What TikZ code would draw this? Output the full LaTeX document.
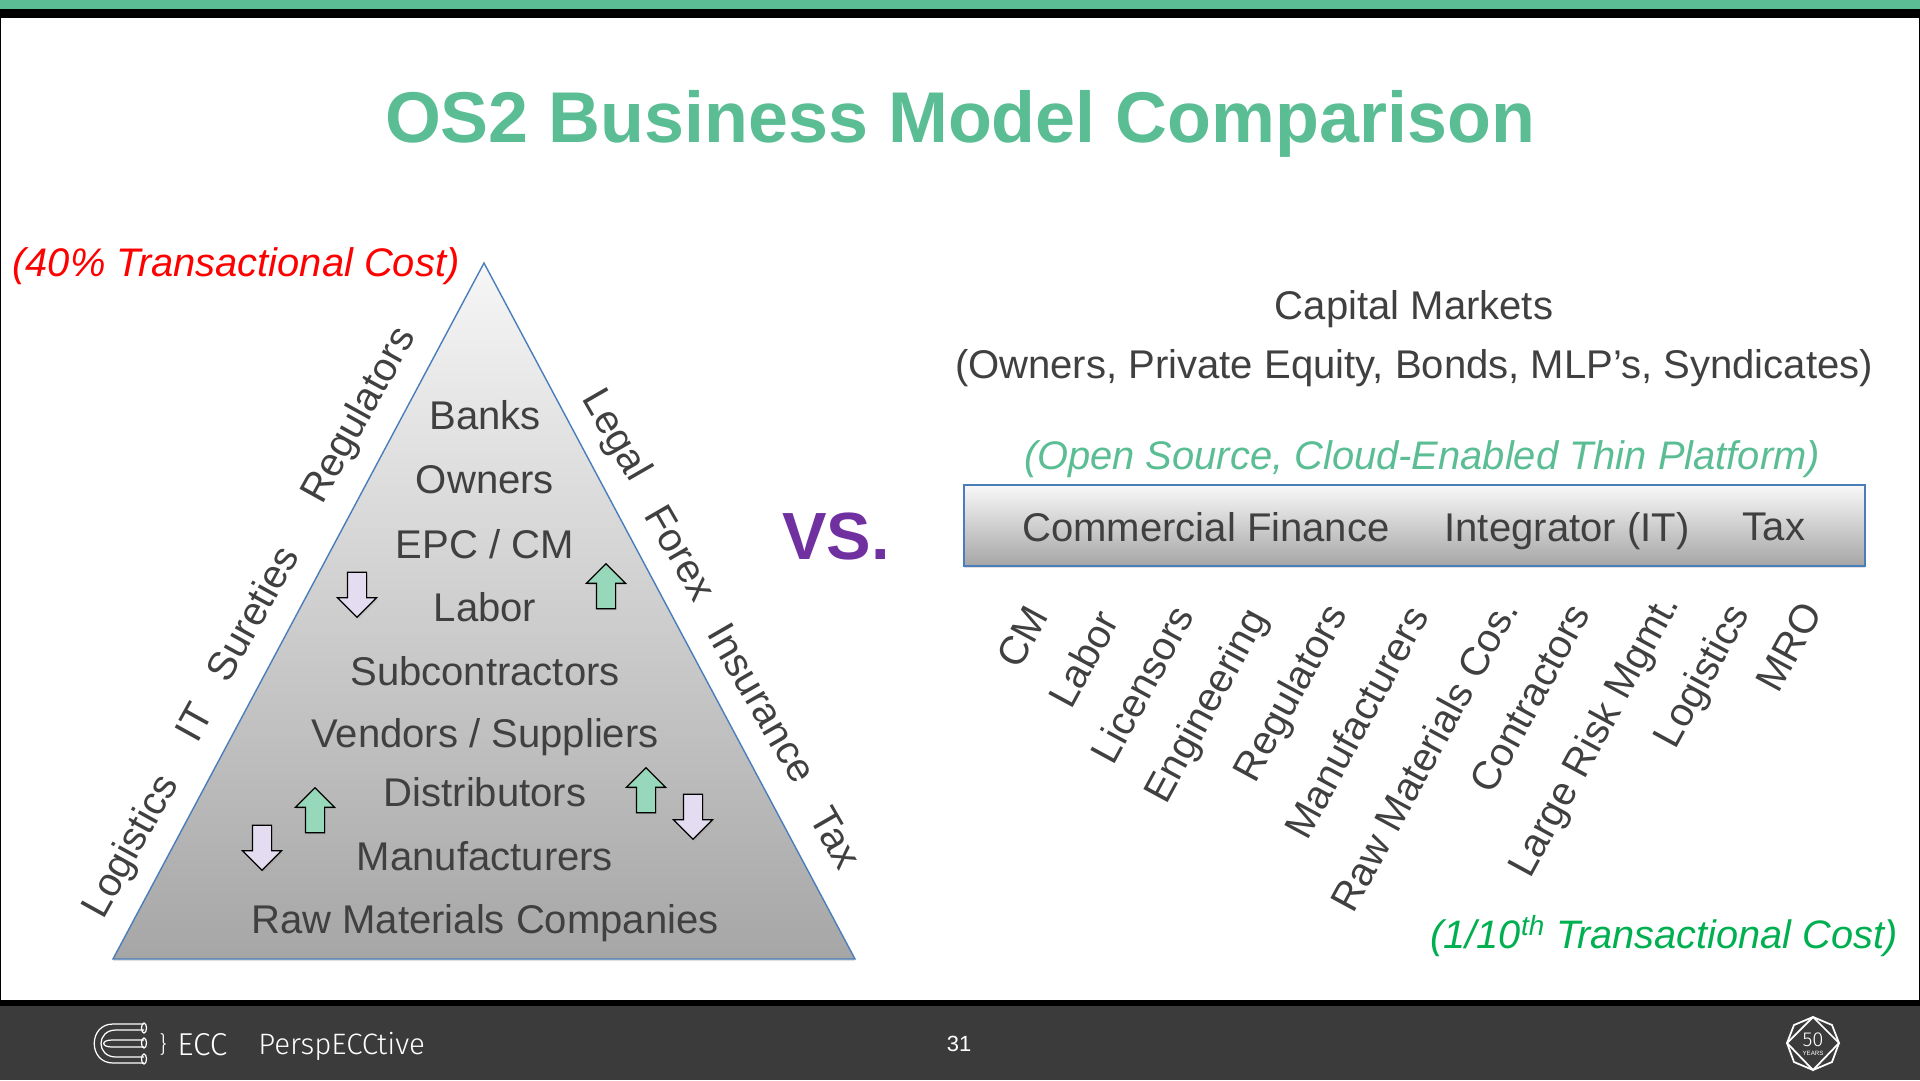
\documentclass[tikz,border=0pt]{standalone}
\usepackage{fontspec}
\setmainfont{Liberation Sans}
\newfontfamily\footfont{Fira Sans Light}
\usetikzlibrary{shapes.arrows,shapes.geometric,shadows}
\definecolor{titlegreen}{HTML}{5ABD94}
\definecolor{bodygray}{HTML}{404040}
\definecolor{footgray}{HTML}{3B3B3B}
\definecolor{sidegray}{HTML}{A6A6A6}
\definecolor{edgeblue}{HTML}{4A7EBB}
\definecolor{upgreen}{HTML}{98D8BA}
\definecolor{downlilac}{HTML}{E4DCF0}
\definecolor{vspurple}{HTML}{7030A0}
\definecolor{costgreen}{HTML}{00B050}
\tikzset{
    bodytext/.style={text=bodygray,font=\fontsize{22.8}{26}\selectfont,inner sep=0pt,anchor=center},
    slanted/.style={bodytext,rotate=#1},
    uparrow/.style={single arrow,draw=black,fill=upgreen,line width=0.7pt,shape border rotate=90,
        minimum height=0.9cm,minimum width=0.76cm,single arrow head extend=0.2cm,inner sep=0.18cm,
        drop shadow={shadow xshift=0.02cm,shadow yshift=-0.03cm,opacity=0.3}},
    downarrow/.style={uparrow,fill=downlilac,shape border rotate=270},
    footlabel/.style={text=white,font=\footfont\fontsize{16.5}{18}\selectfont,inner sep=0pt},
    logoline/.style={draw=white,line width=0.7pt},
}
\begin{document}
\begin{tikzpicture}[x=0.02cm,y=-0.02cm]
    \useasboundingbox (0,0) rectangle (1920,1080);
    \fill[white] (0,0) rectangle (1920,1080);
    % bars
    \fill[titlegreen] (0,0) rectangle (1920,9);
    \fill[black] (0,9) rectangle (1920,18);
    \fill[black] (0,18) rectangle (1.5,1000);
    \fill[black] (1918.5,18) rectangle (1920,1000);
    \fill[black] (0,1000) rectangle (1920,1006);
    \fill[footgray] (0,1006) rectangle (1920,1080);

    \node[text=titlegreen,font=\bfseries\fontsize{40.9}{48}\selectfont,inner sep=0pt] (title) at (960,124) {OS2 Business Model Comparison};

    % pyramid
    \shade[top color=white!90!sidegray,bottom color=sidegray,draw=edgeblue,line width=0.8pt,
        drop shadow={shadow xshift=0cm,shadow yshift=-0.04cm,opacity=0.25}]
        (484,263) -- (855,959) -- (113,959) -- cycle;
    \foreach[count=\i] \ly/\ltext in {415/Banks,480/Owners,544/{EPC / CM},607/Labor,671/Subcontractors,
        737/{Vendors / Suppliers},792/Distributors,856/Manufacturers,923/Raw Materials Companies} {
        \node[bodytext] (level-\i) at (485,\ly) {\ltext};
    }
    \foreach[count=\i] \lx/\ly/\ltext in {132/847/Logistics,194/722/IT,252/613/Sureties,360/416/Regulators} {
        \node[slanted=61] (left-\i) at (\lx,\ly) {\ltext};
    }
    \foreach[count=\i] \lx/\ly/\ltext in {615/436/Legal,681/553/Forex,762/703/Insurance,836/838/Tax} {
        \node[slanted=-60] (right-\i) at (\lx,\ly) {\ltext};
    }
    \foreach[count=\i] \lx/\ly in {606/591,646/795,315/815} {
        \node[uparrow] (up-\i) at (\lx,\ly) {};
    }
    \foreach[count=\i] \lx/\ly in {357/590,693/812,262/843} {
        \node[downarrow] (down-\i) at (\lx,\ly) {};
    }
    \node[text=red,font=\itshape\fontsize{22.7}{26}\selectfont,inner sep=0pt] (cost-old) at (236,266) {(40\% Transactional Cost)};
    \node[text=vspurple,font=\bfseries\fontsize{38}{42}\selectfont,inner sep=0pt] (vs) at (836,537) {VS.};

    % platform
    \node[bodytext] (markets) at (1414,309) {Capital Markets};
    \node[bodytext] (owners) at (1414,368) {(Owners, Private Equity, Bonds, MLP’s, Syndicates)};
    \node[bodytext,text=titlegreen,font=\itshape\fontsize{22.7}{26}\selectfont] (open) at (1422,459) {(Open Source, Cloud-Enabled Thin Platform)};
    \shade[top color=white!92!sidegray,bottom color=sidegray,draw=edgeblue,line width=1pt,
        drop shadow={shadow xshift=0cm,shadow yshift=-0.04cm,opacity=0.25}]
        (964,485) rectangle (1865,566);
    \foreach[count=\i] \lx/\ly/\ltext in {1206/527/Commercial Finance,1567/531/Integrator (IT),1774/527/Tax} {
        \node[bodytext] (band-\i) at (\lx,\ly) {\ltext};
    }
    \foreach[count=\i] \lx/\ly/\ltext in {1022/637/CM,1083/659/Labor,1142/684/Licensors,1208/707/Engineering,
        1293/694/Regulators,1356/722/Manufacturers,1424/755/Raw Materials Cos.,1530/698/Contractors,
        1596/737/Large Risk Mgmt.,1704/677/Logistics,1789/647/MRO} {
        \node[slanted=61.5] (party-\i) at (\lx,\ly) {\ltext};
    }
    \node[text=costgreen,font=\itshape\fontsize{22.6}{26}\selectfont,inner sep=0pt] (cost-new) at (1664,936) {(1/10\textsuperscript{th} Transactional Cost)};

    % footer
    \draw[logoline] (144,1024) -- (113,1024) .. controls (88,1024) and (88,1063) .. (113,1063) -- (144,1063);
    \draw[logoline] (144,1030) -- (116,1030) .. controls (96,1030) and (96,1057) .. (116,1057) -- (144,1057);
    \draw[logoline] (144,1040) -- (112,1040) .. controls (101,1040) and (101,1047) .. (112,1047) -- (144,1047);
    \foreach \ly in {1028,1043,1059} {
        \draw[logoline] (144,\ly) ellipse (2.5 and 5);
    }
    \node[footlabel,font=\footfont\fontsize{13}{15}\selectfont] (brace) at (163,1044) {\}};
    \node[footlabel,anchor=west,font=\footfont\fontsize{18}{20}\selectfont] (ecc) at (177,1045) {ECC};
    \node[footlabel,anchor=west,font=\footfont\fontsize{16.8}{18}\selectfont] (persp) at (258,1046) {PerspECCtive};
    \node[footlabel,font=\fontsize{12.5}{15}\selectfont] (page) at (959,1044) {31};
    \draw[logoline,line width=1pt] (1813,1017) -- (1832,1025) -- (1839,1043) -- (1832,1062) -- (1813,1070) -- (1794,1062) -- (1787,1043) -- (1794,1025) -- cycle;
    \draw[logoline,line width=1pt] (1813,1017) -- (1839,1043) -- (1813,1070) -- (1787,1043) -- cycle;
    \node[footlabel,font=\footfont\fontsize{11.5}{13}\selectfont] (fifty) at (1813,1040) {50};
    \node[footlabel,font=\fontsize{3.5}{4}\selectfont] (years) at (1813,1053) {YEARS};
\end{tikzpicture}
\end{document}
